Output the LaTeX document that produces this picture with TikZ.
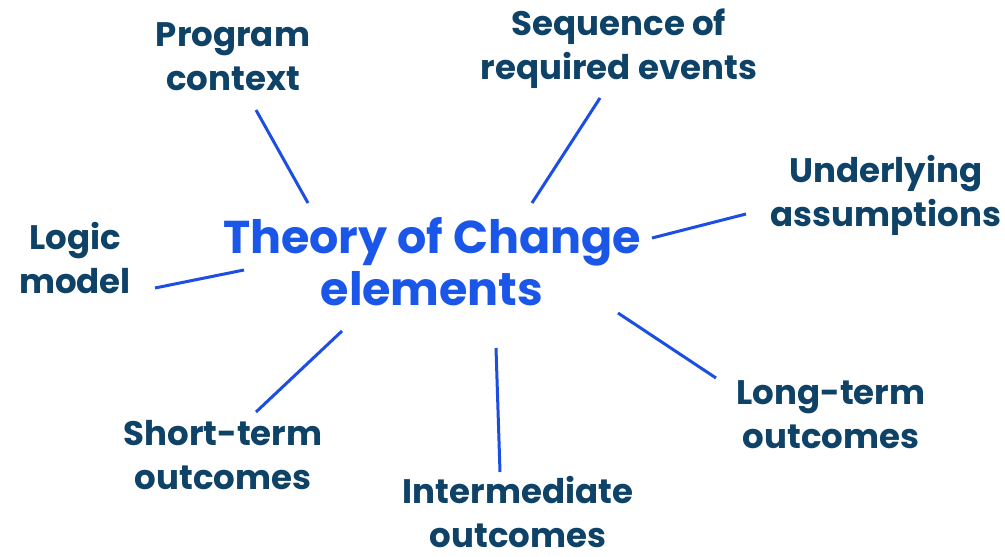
\documentclass[tikz,border=0pt]{standalone}
\usepackage{fontspec}
\setmainfont{Poppins}
\definecolor{tocblue}{RGB}{26,86,232}
\definecolor{linkblue}{RGB}{28,78,226}
\definecolor{labelnavy}{RGB}{14,66,102}
\tikzset{
  element/.style={text=labelnavy, align=center, inner sep=0pt, font=\fontsize{34}{44}\selectfont\bfseries},
  link/.style={draw=linkblue, line width=3pt}
}

\begin{document}
\begin{tikzpicture}[x=1pt,y=-1pt]
        \useasboundingbox (0,0) rectangle (1005,557);
		\node[text=tocblue, align=center, inner sep=0pt, font=\fontsize{46}{52}\selectfont\bfseries] (toc) at (432,262) {Theory of Change\\elements};
		\node[element] (context) at (233,57) {Program\\context};
		\node[element] (sequence) at (619,49) {Sequence of\\required events};
		\node[element] (assumptions) at (886,195) {Underlying\\assumptions};
		\node[element] (logic) at (75,258) {Logic\\model};
		\node[element] (longterm) at (831,415) {Long-term\\outcomes};
		\node[element] (shortterm) at (223,455) {Short-term\\outcomes};
		\node[element, anchor=base] (intermediate) at (518,547) {Intermediate\\outcomes};
		% line ends
		\coordinate (c1) at (256,110);  \coordinate (c2) at (308,203);
		\coordinate (s1) at (600,98);   \coordinate (s2) at (532,203);
		\coordinate (a1) at (746,214);  \coordinate (a2) at (652,238);
		\coordinate (l1) at (155,288);  \coordinate (l2) at (244,270);
		\coordinate (lt1) at (716,378); \coordinate (lt2) at (618,313);
		\coordinate (i1) at (500,472);  \coordinate (i2) at (496,348);
		\coordinate (st1) at (256,412); \coordinate (st2) at (342,331);
		\draw[link] (c1)--(c2);
		\draw[link] (s1)--(s2);
		\draw[link] (a1)--(a2);
		\draw[link] (l1)--(l2);
		\draw[link] (lt1)--(lt2);
		\draw[link] (i1)--(i2);
		\draw[link] (st1)--(st2);
\end{tikzpicture}
\end{document}
